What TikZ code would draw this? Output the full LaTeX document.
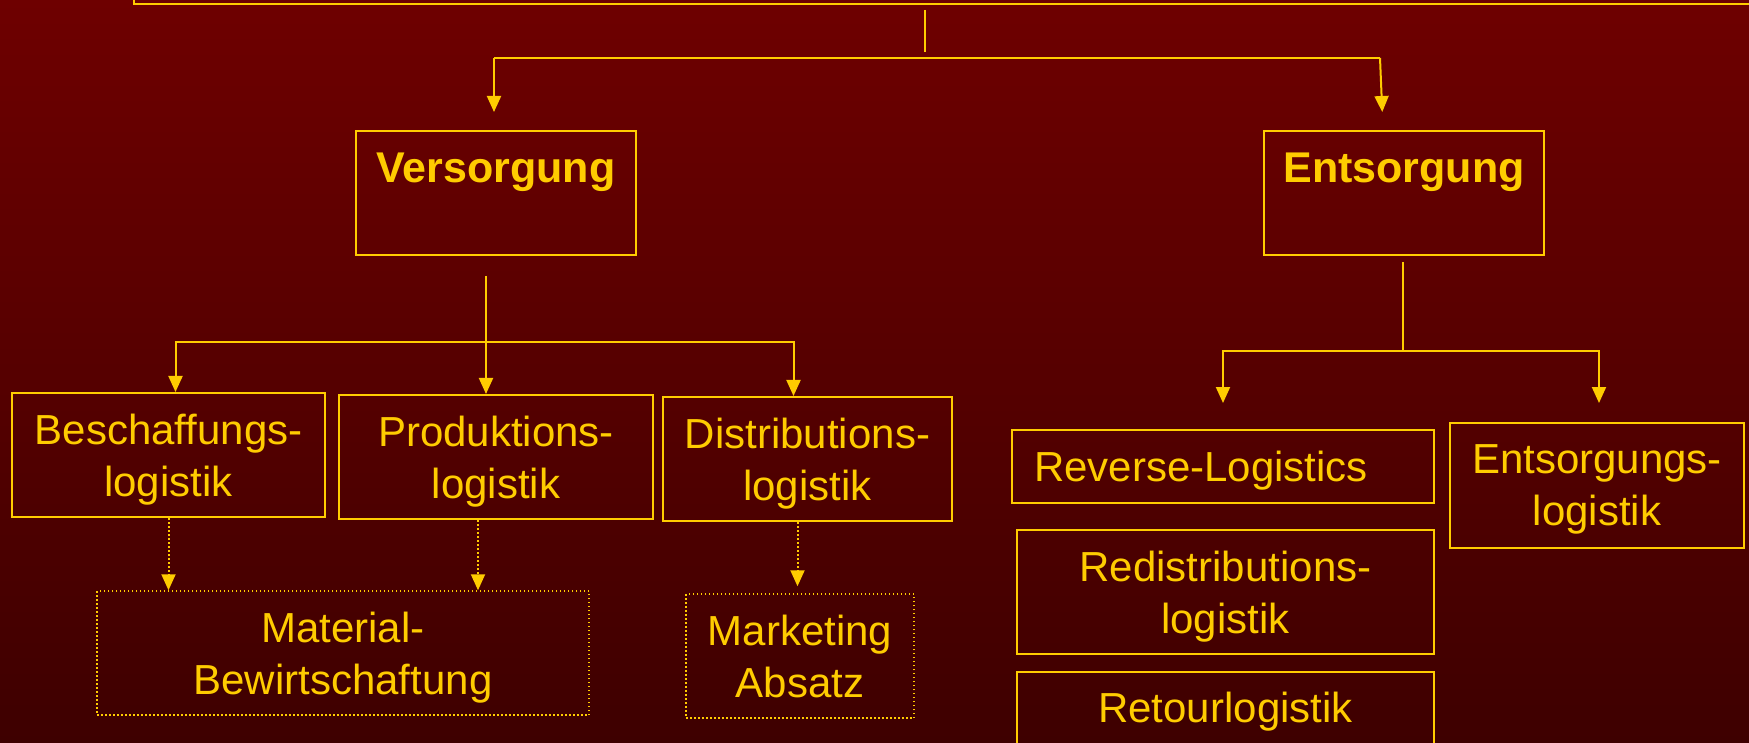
\documentclass[tikz,border=0pt]{standalone}
\usepackage{fontspec}
\setmainfont{Liberation Sans}
\usepackage{tikz}
\usetikzlibrary{positioning}
\usetikzlibrary{calc}
\usetikzlibrary{arrows.meta}

\definecolor{gold}{RGB}{255,204,0}
\definecolor{bgoben}{RGB}{110,0,0}
\definecolor{bgunten}{RGB}{62,0,0}

\begin{document}
\begin{tikzpicture}[x=1pt,y=-1pt,
	logbox/.style={rectangle, draw=gold, line width=2pt, text=gold, inner sep=0pt, align=center, text depth=0pt, font=\fontsize{42}{52}\selectfont},
	hauptbox/.style={logbox, minimum width=280pt, minimum height=124pt, text height=32pt, text depth=52pt, font=\fontsize{43}{52}\selectfont\bfseries},
	punktbox/.style={logbox, draw=gold, dash pattern=on 1.5pt off 2.5pt, line width=1.5pt},
	linie/.style={draw=gold, line width=2pt},
	pfeil/.style={linie, -{Triangle[length=16pt,width=14pt]}},
	punktpfeil/.style={pfeil, dash pattern=on 1.5pt off 2.5pt}]
	\shade[top color=bgoben, bottom color=bgunten] (0,0) rectangle (1749,743);
	\useasboundingbox (0,0) rectangle (1749,743);
	\node[logbox, minimum width=1700pt, minimum height=100pt] (kopf) at (984,-46) {};
	\node[hauptbox] (versorgung) at (496,193) {Versorgung};
	\node[hauptbox] (entsorgung) at (1404,193) {Entsorgung};
	\node[logbox, minimum width=313pt, minimum height=124pt] (beschaffung) at (168.5,455) {Beschaffungs-\\logistik};
	\node[logbox, minimum width=314pt, minimum height=124pt] (produktion) at (496,457) {Produktions-\\logistik};
	\node[logbox, minimum width=289pt, minimum height=124pt] (distribution) at (807.5,459) {Distributions-\\logistik};
	\node[punktbox, minimum width=492pt, minimum height=124pt] (material) at (343,653) {Material-\\Bewirtschaftung};
	\node[punktbox, minimum width=228pt, minimum height=124pt] (marketing) at (800,656) {Marketing\\Absatz};
	\node[logbox, minimum width=422pt, minimum height=73pt, text width=378pt, align=left] (reverse) at (1223,466.5) {Reverse-Logistics};
	\node[logbox, minimum width=417pt, minimum height=124pt] (redistribution) at (1225.5,592) {Redistributions-\\logistik};
	\node[logbox, minimum width=417pt, minimum height=80pt, text depth=9pt] (retour) at (1225.5,712) {Retourlogistik};
	\node[logbox, minimum width=294pt, minimum height=125pt] (entlog) at (1597,485.5) {Entsorgungs-\\logistik};
	\coordinate (kopfmitte) at ($(kopf.south)+(-59,0)$);
	\coordinate (obenlinks) at (494,58);
	\coordinate (obenrechts) at (1380,58);
	\coordinate (vknoten) at ($(versorgung.south)+(-10,86)$);
	\coordinate (eknoten) at ($(entsorgung.south)+(-1,95)$);
	\draw[linie] ([yshift=-5pt]kopfmitte) -- ([yshift=-47pt]kopfmitte);
	\draw[linie] (obenlinks) -- (obenrechts);
	\draw[pfeil, shorten >=18pt] (obenlinks) -- (obenlinks |- versorgung.north);
	\draw[pfeil, shorten >=18pt] (obenrechts) -- ([xshift=-21pt]entsorgung.north);
	\draw[pfeil] ([yshift=-20pt]vknoten |- versorgung.south) -- (vknoten |- produktion.north);
	\draw[pfeil] (vknoten) -| ([xshift=7pt]beschaffung.north);
	\draw[pfeil] (vknoten) -| ([xshift=-14pt]distribution.north);
	\draw[linie] ([yshift=-6pt]eknoten |- entsorgung.south) -- (eknoten);
	\draw[pfeil, shorten >=26pt] (eknoten) -| (reverse.north);
	\draw[pfeil, shorten >=19pt] (eknoten) -| ([xshift=2pt]entlog.north);
	\draw[punktpfeil] (beschaffung.south) -- (beschaffung.south |- material.north);
	\draw[punktpfeil] ([xshift=-18pt]produktion.south) -- ([xshift=-18pt]produktion.south |- material.north);
	\draw[punktpfeil, shorten >=7pt] ([xshift=-10pt]distribution.south) -- ([xshift=-10pt]distribution.south |- marketing.north);
\end{tikzpicture}
\end{document}
